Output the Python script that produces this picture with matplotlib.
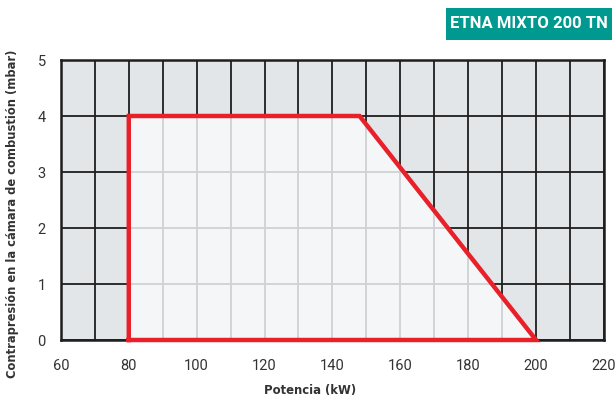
import matplotlib.pyplot as plt
from matplotlib.patches import Polygon, Rectangle

plt.rcParams['font.family'] = ['Roboto', 'DejaVu Sans']

# Operating range of the burner
potencia = [80, 80, 148, 200]
contrapresion = [0, 4, 4, 0]

x_ticks = [60, 80, 100, 120, 140, 160, 180, 200, 220]
y_ticks = [0, 1, 2, 3, 4, 5]
x_grid = list(range(60, 221, 10))

fig = plt.figure(figsize=(6.15, 4), dpi=100)
ax = fig.add_axes([0.099, 0.15, 0.883, 0.70])
ax.set_xlim(60, 220)
ax.set_ylim(0, 5)

# grey background with dark grid
ax.add_patch(Rectangle((60, 0), 160, 5, facecolor='#e3e6e9', edgecolor='none', zorder=0))
for gx in x_grid:
    ax.axvline(gx, color='#1e1e1e', lw=1.3, zorder=1)
for gy in y_ticks:
    ax.axhline(gy, color='#1e1e1e', lw=1.3, zorder=1)

# light area inside the working range
area = Polygon(list(zip(potencia, contrapresion)), closed=True,
               facecolor='#f5f6f8', edgecolor='none', zorder=2)
ax.add_patch(area)
for gx in x_grid:
    ln = ax.axvline(gx, color='#cfd1d4', lw=1.3, zorder=3)
    ln.set_clip_path(area)
for gy in y_ticks:
    ln = ax.axhline(gy, color='#cfd1d4', lw=1.3, zorder=3)
    ln.set_clip_path(area)

ax.plot(potencia + [potencia[0]], contrapresion + [contrapresion[0]],
        color='#e8202a', lw=3.2, solid_joinstyle='miter', zorder=5, clip_on=False)

for s in ax.spines.values():
    s.set_color('#1e1e1e')
    s.set_linewidth(1.8)
    s.set_zorder(4)

ax.set_xticks(x_ticks)
ax.set_yticks(y_ticks)
ax.tick_params(length=0, labelsize=10.5, labelcolor='#333333', pad=14)
ax.tick_params(axis='y', pad=11)

ax.set_xlabel('Potencia (kW)', fontsize=8.4, fontweight='bold', color='#333333',
              family='DejaVu Sans')
ax.xaxis.set_label_coords(0.459, -0.158)
ax.set_ylabel('Contrapresión en la cámara de combustión (mbar)', fontsize=8.3,
              fontweight='bold', color='#333333', family='DejaVu Sans')
ax.yaxis.set_label_coords(-0.078, 0.45)

# model badge
fig.patches.append(Rectangle((446 / 615, 1 - 40 / 400), 166 / 615, 32 / 400,
                             transform=fig.transFigure, facecolor='#00998f',
                             edgecolor='none'))
fig.text(529 / 615, 1 - 24 / 400, 'ETNA MIXTO 200 TN', ha='center', va='center',
         color='white', fontsize=12, fontweight='bold')

fig.savefig('out.png', dpi=100)
